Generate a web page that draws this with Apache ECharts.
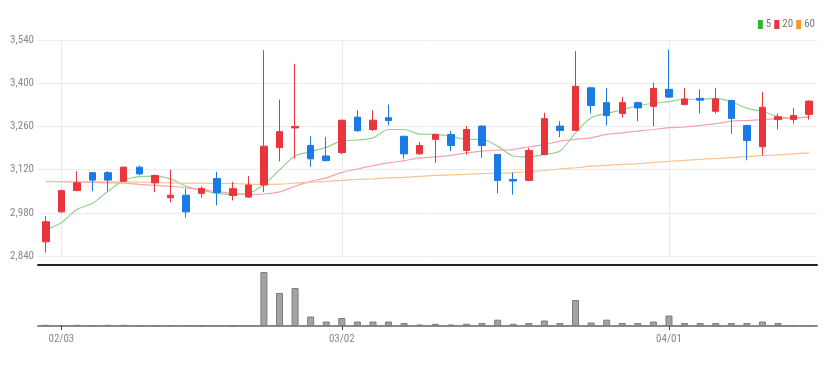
<!DOCTYPE html>
<html>
<head>
<meta charset="utf-8">
<script src="https://cdn.jsdelivr.net/npm/echarts@6/dist/echarts.min.js"></script>
<style>
html,body{margin:0;padding:0;background:#fff;}
#chart{width:835px;height:367px;}
</style>
</head>
<body>
<div id="chart"></div>
<script>
const dates = ['01/28','02/03','02/04','02/07','02/08','02/09','02/10','02/11','02/14','02/15','02/16','02/17','02/18','02/21','02/22','02/23','02/24','02/25','02/28','03/02','03/03','03/04','03/07','03/08','03/10','03/11','03/14','03/15','03/16','03/17','03/18','03/21','03/22','03/23','03/24','03/25','03/28','03/29','03/30','03/31','04/01','04/04','04/05','04/06','04/07','04/08','04/11','04/12','04/13','04/14'];
const shownDates = ['02/03','03/02','04/01'];
const openVals  = [2886,2983,3052,3110,3110,3082,3128,3077,3029,3037,3043,3091,3036,3031,3070,3191,3255,3198,3164,3175,3290,3250,3288,3228,3171,3218,3234,3182,3261,3169,3088,3085,3169,3261,3247,3385,3337,3302,3337,3325,3380,3331,3351,3309,3344,3263,3194,3282,3282,3299];
const closeVals = [2951,3052,3077,3086,3086,3128,3106,3101,3037,2983,3059,3045,3058,3070,3196,3243,3260,3155,3149,3280,3246,3280,3279,3171,3198,3234,3198,3250,3198,3085,3083,3182,3285,3247,3390,3328,3295,3337,3320,3383,3355,3349,3345,3349,3286,3214,3322,3291,3295,3342];
const lowVals   = [2851,2980,3050,3050,3050,3080,3102,3047,3014,2964,3029,3004,3020,3028,3047,3147,3156,3129,3147,3170,3242,3245,3263,3155,3168,3142,3180,3169,3158,3043,3039,3083,3166,3225,3245,3302,3263,3289,3277,3261,3352,3328,3302,3302,3236,3150,3166,3250,3269,3282];
const highVals  = [2970,3055,3115,3112,3115,3130,3133,3104,3120,3058,3066,3113,3080,3099,3507,3347,3463,3228,3226,3282,3312,3312,3331,3230,3209,3236,3245,3261,3263,3170,3110,3191,3304,3277,3504,3388,3385,3356,3340,3401,3509,3385,3380,3385,3346,3265,3372,3302,3320,3344];
const ma5  = [2926,2948,2991,3011,3050,3085,3097,3099,3090,3066,3053,3043,3039,3043,3072,3119,3164,3178,3192,3213,3216,3223,3250,3250,3235,3234,3228,3218,3218,3196,3164,3161,3169,3180,3239,3288,3302,3314,3327,3335,3340,3348,3348,3351,3340,3319,3308,3292,3287,3292];
const ma20 = [3082,3081,3080,3079,3077,3076,3072,3069,3066,3061,3055,3049,3043,3040,3041,3048,3066,3082,3093,3111,3122,3133,3142,3149,3158,3161,3166,3174,3180,3183,3185,3194,3201,3212,3218,3223,3234,3239,3245,3250,3256,3258,3263,3269,3277,3279,3282,3285,3287,3290];
const ma60 = [3081,3081,3081,3081,3080,3080,3079,3078,3077,3076,3076,3075,3075,3073,3072,3073,3076,3079,3082,3085,3088,3090,3093,3095,3098,3101,3103,3105,3107,3108,3110,3113,3117,3122,3126,3131,3134,3137,3139,3143,3147,3150,3153,3156,3159,3162,3165,3168,3171,3174];
const volumes = [12,10,12,10,12,12,3,3,10,10,3,8,3,8,540,330,380,95,45,80,45,45,45,30,15,22,15,22,30,63,22,30,55,30,260,35,63,30,30,45,105,30,30,30,30,30,45,30,10,10];
const yTicks = [2840,2980,3120,3260,3400,3540];
const maNames = ['5','20','60'];

const FONT = '"Roboto Condensed","Liberation Sans Narrow",sans-serif';
const candleData = dates.map((d,i)=>[openVals[i],closeVals[i],lowVals[i],highVals[i]]);
const showIdx = (i) => shownDates.indexOf(dates[i]) >= 0;

const chart = echarts.init(document.getElementById('chart'), null, {renderer:'canvas'});
chart.setOption({
  animation:false,
  backgroundColor:'#fff',
  legend:{
    right:15, top:14, itemWidth:5, itemHeight:9, itemGap:3, icon:'rect',
    data:maNames,
    textStyle:{color:'#777', fontSize:11, fontFamily:FONT, padding:[0,0,0,-2]}
  },
  grid:[
    {left:38, right:18, top:40, height:216},
    {left:38, right:18, top:265, height:61}
  ],
  xAxis:[
    {type:'category', data:dates, gridIndex:0, boundaryGap:true,
     axisLine:{show:false}, axisTick:{show:false}, axisLabel:{show:false},
     splitLine:{show:true, interval:showIdx, alignWithLabel:true, lineStyle:{color:'#ececec', width:1}}},
    {type:'category', data:dates, gridIndex:1, boundaryGap:true, position:'bottom',
     axisLine:{show:true, lineStyle:{color:'#8a8a8a', width:2}},
     axisTick:{show:true, interval:showIdx, alignWithLabel:true, length:4, lineStyle:{color:'#444', width:1}},
     axisLabel:{show:true, interval:showIdx, color:'#888', fontSize:11, fontFamily:FONT, margin:8},
     splitLine:{show:false}},
    {type:'category', data:dates, gridIndex:1, boundaryGap:true, position:'top',
     axisLine:{show:true, onZero:false, lineStyle:{color:'#222', width:2}},
     axisTick:{show:false}, axisLabel:{show:false}, splitLine:{show:false}}
  ],
  yAxis:[
    {type:'value', gridIndex:0, min:2840, max:3540, scale:true,
     axisLine:{show:false},
     axisTick:{show:false, customValues:yTicks},
     axisLabel:{customValues:yTicks, color:'#888', fontSize:11, fontFamily:FONT, margin:4,
       formatter:v=>Number(v).toLocaleString('en-US')},
     splitLine:{show:true, lineStyle:{color:'#ececec', width:1}}},
    {type:'value', gridIndex:1, min:0, max:610,
     axisLine:{show:false}, axisTick:{show:false}, axisLabel:{show:false}, splitLine:{show:false}}
  ],
  series:[
    {name:'candle', type:'candlestick', xAxisIndex:0, yAxisIndex:0, data:candleData, barWidth:7, z:3,
     itemStyle:{color:'#e8363c', color0:'#1a7be6', borderColor:'#e8363c', borderColor0:'#1a7be6', borderWidth:1}},
    {name:'5', type:'line', xAxisIndex:0, yAxisIndex:0, data:ma5, symbol:'none', smooth:0.3, z:2,
     itemStyle:{color:'#2fb52f'}, lineStyle:{color:'#8fd48f', width:1.2}},
    {name:'20', type:'line', xAxisIndex:0, yAxisIndex:0, data:ma20, symbol:'none', smooth:0.3, z:2,
     itemStyle:{color:'#e8363c'}, lineStyle:{color:'#f5a3ae', width:1.2}},
    {name:'60', type:'line', xAxisIndex:0, yAxisIndex:0, data:ma60, symbol:'none', smooth:0.3, z:2,
     itemStyle:{color:'#f39a2b'}, lineStyle:{color:'#f8c48f', width:1.2}},
    {name:'vol', type:'bar', xAxisIndex:1, yAxisIndex:1, data:volumes, barWidth:7,
     itemStyle:{color:'#a3a3a3', borderColor:'#7d7d7d', borderWidth:1}}
  ]
});
</script>
</body>
</html>
